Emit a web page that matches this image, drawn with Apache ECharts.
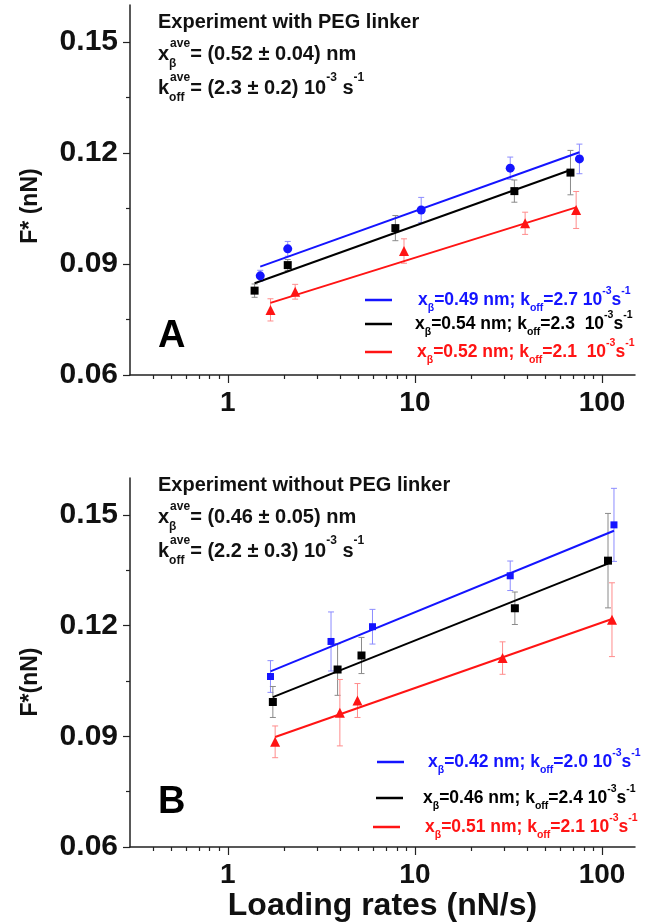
<!DOCTYPE html>
<html>
<head>
<meta charset="utf-8">
<script src="https://cdn.jsdelivr.net/npm/echarts@6/dist/echarts.min.js"></script>
<style>
  html, body { margin: 0; padding: 0; background: #ffffff; }
  #chart { width: 651px; height: 924px; }
</style>
</head>
<body>
<div id="chart"></div>
<script>
// ---- Panel A: experiment with PEG linker ----
const rateA_blue  = [1.49, 2.09, 10.8, 32.3, 75.7];
const forceA_blue = [0.0868, 0.0941, 0.1046, 0.1159, 0.1184];
const errA_blue   = [0.0015, 0.0020, 0.0034, 0.0030, 0.0040];

const rateA_black  = [1.39, 2.09, 7.86, 34.0, 67.8];
const forceA_black = [0.0828, 0.0897, 0.0997, 0.1097, 0.1147];
const errA_black   = [0.0018, 0.0015, 0.0034, 0.0030, 0.0060];

const rateA_red  = [1.69, 2.29, 8.74, 38.8, 72.7];
const forceA_red = [0.0776, 0.0825, 0.0935, 0.1010, 0.1046];
const errA_red   = [0.0030, 0.0020, 0.0033, 0.0030, 0.0050];

// fitted lines: [start, end] rates and forces
const fitRateA_blue  = [1.49, 75.7];
const fitForceA_blue = [0.0893, 0.1202];
const fitRateA_black  = [1.39, 67.8];
const fitForceA_black = [0.0848, 0.1154];
const fitRateA_red  = [1.69, 72.7];
const fitForceA_red = [0.0795, 0.1053];

const xBetaA = ['0.49', '0.54', '0.52'];
const koffA  = ['2.7', '2.3 ', '2.1 '];

// ---- Panel B: experiment without PEG linker ----
const rateB_blue  = [1.69, 3.56, 5.93, 32.3, 115.8];
const forceB_blue = [0.1062, 0.1157, 0.1197, 0.1335, 0.1473];
const errB_blue   = [0.0043, 0.0080, 0.0047, 0.0040, 0.0099];

const rateB_black  = [1.74, 3.86, 5.18, 34.2, 107.6];
const forceB_black = [0.0993, 0.1081, 0.1119, 0.1247, 0.1376];
const errB_black   = [0.0042, 0.0070, 0.0049, 0.0044, 0.0128];

const rateB_red  = [1.79, 3.97, 4.93, 29.4, 113];
const forceB_red = [0.0885, 0.0964, 0.0997, 0.1112, 0.1216];
const errB_red   = [0.0043, 0.0090, 0.0046, 0.0044, 0.0100];

const fitRateB_blue  = [1.69, 115.8];
const fitForceB_blue = [0.1076, 0.1457];
const fitRateB_black  = [1.74, 107.6];
const fitForceB_black = [0.1006, 0.1368];
const fitRateB_red  = [1.79, 113];
const fitForceB_red = [0.0898, 0.1218];

const xBetaB = ['0.42', '0.46', '0.51'];
const koffB  = ['2.0', '2.4', '2.1'];

// ---- axis ticks ----
const rateTicks = [1, 10, 100];
const rateMinorTicks = [0.4, 0.5, 0.6, 0.7, 0.8, 0.9, 2, 3, 4, 5, 6, 7, 8, 9, 20, 30, 40, 50, 60, 70, 80, 90];
const forceTicks = [0.06, 0.09, 0.12, 0.15];
const forceMinorTicks = [0.075, 0.105, 0.135];

const FONT = '"Liberation Sans", Arial, sans-serif';
const BLUE = '#1414ff', BLACK = '#000000', RED = '#ff1414';
const BLUE_ERR = '#8c8cff', BLACK_ERR = '#8a8a8a', RED_ERR = '#ff8c8c';
const AXIS = '#222222';

const zip = (xs, ys) => xs.map((x, i) => [x, ys[i]]);
const zip3 = (xs, ys, es) => xs.map((x, i) => [x, ys[i], es[i]]);

function errorBarRenderer(color) {
  return function (params, api) {
    const x = api.value(0), y = api.value(1), e = api.value(2);
    const hi = api.coord([x, y + e]);
    const lo = api.coord([x, y - e]);
    const cap = 3;
    const style = { stroke: color, lineWidth: 1 };
    return {
      type: 'group',
      children: [
        { type: 'line', shape: { x1: hi[0], y1: hi[1], x2: lo[0], y2: lo[1] }, style },
        { type: 'line', shape: { x1: hi[0] - cap, y1: hi[1], x2: hi[0] + cap, y2: hi[1] }, style },
        { type: 'line', shape: { x1: lo[0] - cap, y1: lo[1], x2: lo[0] + cap, y2: lo[1] }, style }
      ]
    };
  };
}

function xMain(grid, name) {
  return {
    type: 'log', logBase: 10, gridIndex: grid, min: 0.3, max: 150, position: 'bottom',
    axisLine: { onZero: false, lineStyle: { color: AXIS, width: 1.5 } },
    axisTick: { customValues: rateTicks, length: 8, lineStyle: { color: AXIS, width: 1.2 } },
    axisLabel: {
      customValues: rateTicks, margin: 14, fontSize: 28, fontWeight: 'bold',
      fontFamily: FONT, color: '#111', formatter: v => String(Math.round(v))
    },
    splitLine: { show: false },
    name: name || '', nameLocation: 'middle', nameGap: 40,
    nameTextStyle: { fontSize: 32, fontWeight: 'bold', fontFamily: FONT, color: '#111' }
  };
}
function xMinor(grid) {
  return {
    type: 'log', logBase: 10, gridIndex: grid, min: 0.3, max: 150, position: 'bottom',
    axisLine: { show: false, onZero: false },
    axisTick: { customValues: rateMinorTicks, length: 4, lineStyle: { color: AXIS, width: 1.2 } },
    axisLabel: { show: false },
    splitLine: { show: false }
  };
}
function yMain(grid) {
  return {
    type: 'value', gridIndex: grid, min: 0.06, max: 0.16, position: 'left',
    axisLine: { show: true, onZero: false, lineStyle: { color: AXIS, width: 1.5 } },
    axisTick: { show: true, customValues: forceTicks, length: 7, lineStyle: { color: AXIS, width: 1.2 } },
    axisLabel: {
      customValues: forceTicks, margin: 12, fontSize: 30, fontWeight: 'bold',
      fontFamily: FONT, color: '#111', formatter: v => v.toFixed(2)
    },
    splitLine: { show: false }
  };
}
function yMinor(grid) {
  return {
    type: 'value', gridIndex: grid, min: 0.06, max: 0.16, position: 'left',
    axisLine: { show: false, onZero: false },
    axisTick: { show: true, customValues: forceMinorTicks, length: 4, lineStyle: { color: AXIS, width: 1.2 } },
    axisLabel: { show: false },
    splitLine: { show: false }
  };
}

function errSeries(name, axis, rates, forces, errs, color) {
  return {
    name, type: 'custom', xAxisIndex: axis, yAxisIndex: axis, z: 1,
    renderItem: errorBarRenderer(color), encode: { x: 0, y: 1 },
    data: zip3(rates, forces, errs), silent: true
  };
}
function fitSeries(name, axis, rates, forces, color) {
  return {
    name, type: 'line', xAxisIndex: axis, yAxisIndex: axis, z: 2,
    data: zip(rates, forces), symbol: 'none', showSymbol: false,
    lineStyle: { color, width: 2 }, itemStyle: { color }, silent: true, animation: false
  };
}
function pointSeries(name, axis, rates, forces, color, symbol, size) {
  return {
    name, type: 'scatter', xAxisIndex: axis, yAxisIndex: axis, z: 3,
    data: zip(rates, forces), symbol, symbolSize: size,
    itemStyle: { color, opacity: 1 }, silent: true
  };
}

// legend rows: rich text with subscripts / superscripts
function legendText(xb, k) {
  return '{m|x}{sub|β}{m|=' + xb + ' nm; k}{sub|off}{m|=' + k + ' 10}{sup|-3}{m|s}{sup|-1}';
}
function legendRich(color) {
  const base = { color, fontFamily: FONT, fontWeight: 'bold' };
  return {
    m: Object.assign({ fontSize: 17.5, lineHeight: 28 }, base),
    sub: Object.assign({ fontSize: 10.5, lineHeight: 10, verticalAlign: 'bottom' }, base),
    sup: Object.assign({ fontSize: 10.5, lineHeight: 18, verticalAlign: 'top' }, base)
  };
}
function legendItem(seriesName, text, color, left, top, pad) {
  return {
    data: [{ name: seriesName, icon: 'rect', itemStyle: { color } }],
    left, top, orient: 'horizontal', padding: 0,
    itemWidth: 27, itemHeight: 2.5, selectedMode: false,
    formatter: () => text,
    textStyle: { color, padding: [0, 0, 0, pad], rich: legendRich(color) }
  };
}

// annotation blocks (zrender rich styles)
const annBase = { fill: '#111', fontFamily: FONT, fontWeight: 'bold' };
const annRich = {
  m: Object.assign({ fontSize: 20, lineHeight: 32 }, annBase),
  sub: Object.assign({ fontSize: 12, lineHeight: 14, verticalAlign: 'bottom', width: 1 }, annBase),
  sup: Object.assign({ fontSize: 12, lineHeight: 16, verticalAlign: 'top' }, annBase)
};
function annLine(x, y, text) {
  return { type: 'text', x, y, z: 10, silent: true,
    style: { text, rich: annRich, align: 'left', verticalAlign: 'middle' } };
}
function annotation(y0, title, xb, koff) {
  return [
    annLine(158, y0, '{m|' + title + '}'),
    annLine(158, y0 + 32, '{m|x}{sub|β}{sup|ave}{m|= (' + xb + ') nm}'),
    annLine(158, y0 + 66, '{m|k}{sub|off}{sup|ave}{m|= (' + koff + ') 10}{sup|-3}{m| s}{sup|-1}')
  ];
}
function panelLetter(y, letter) {
  return { type: 'text', x: 158, y, z: 10, silent: true,
    style: { text: letter, fill: '#000', fontSize: 38, fontWeight: 'bold', fontFamily: FONT,
             align: 'left', verticalAlign: 'middle' } };
}
function yTitle(y, text) {
  return { type: 'text', x: 31, y, rotation: Math.PI / 2, z: 10, silent: true,
    style: { text, fill: '#111', fontSize: 23, fontWeight: 'bold', fontFamily: FONT,
             align: 'center', verticalAlign: 'middle' } };
}

const chart = echarts.init(document.getElementById('chart'), null, { renderer: 'canvas' });

const option = {
  animation: false,
  backgroundColor: '#ffffff',
  grid: [
    { left: 130, right: 16, top: 5, height: 370 },
    { left: 130, right: 16, top: 478, height: 369 }
  ],
  xAxis: [xMain(0), xMinor(0), xMain(1, 'Loading rates (nN/s)'), xMinor(1)],
  yAxis: [yMain(0), yMinor(0), yMain(1), yMinor(1)],
  legend: [
    legendItem('A blue fit',  legendText(xBetaA[0], koffA[0]), BLUE,  365, 286, 21),
    legendItem('A black fit', legendText(xBetaA[1], koffA[1]), BLACK, 365, 310, 18),
    legendItem('A red fit',   legendText(xBetaA[2], koffA[2]), RED,   365, 338, 20),
    legendItem('B blue fit',  legendText(xBetaB[0], koffB[0]), BLUE,  377, 748, 19),
    legendItem('B black fit', legendText(xBetaB[1], koffB[1]), BLACK, 376, 784, 15),
    legendItem('B red fit',   legendText(xBetaB[2], koffB[2]), RED,   373, 813, 20)
  ],
  graphic: [].concat(
    annotation(22, 'Experiment with PEG linker', '0.52 ± 0.04', '2.3 ± 0.2'),
    annotation(485, 'Experiment without PEG linker', '0.46 ± 0.05', '2.2 ± 0.3'),
    [panelLetter(337, 'A'), panelLetter(803, 'B'),
     yTitle(206, 'F* (nN)'), yTitle(682, 'F*(nN)')]
  ),
  series: [
    errSeries('A blue err', 0, rateA_blue, forceA_blue, errA_blue, BLUE_ERR),
    errSeries('A black err', 0, rateA_black, forceA_black, errA_black, BLACK_ERR),
    errSeries('A red err', 0, rateA_red, forceA_red, errA_red, RED_ERR),
    fitSeries('A blue fit', 0, fitRateA_blue, fitForceA_blue, BLUE),
    fitSeries('A black fit', 0, fitRateA_black, fitForceA_black, BLACK),
    fitSeries('A red fit', 0, fitRateA_red, fitForceA_red, RED),
    pointSeries('A blue', 0, rateA_blue, forceA_blue, BLUE, 'circle', 9),
    pointSeries('A black', 0, rateA_black, forceA_black, BLACK, 'rect', 8),
    pointSeries('A red', 0, rateA_red, forceA_red, RED, 'triangle', 10),

    errSeries('B blue err', 2, rateB_blue, forceB_blue, errB_blue, BLUE_ERR),
    errSeries('B black err', 2, rateB_black, forceB_black, errB_black, BLACK_ERR),
    errSeries('B red err', 2, rateB_red, forceB_red, errB_red, RED_ERR),
    fitSeries('B blue fit', 2, fitRateB_blue, fitForceB_blue, BLUE),
    fitSeries('B black fit', 2, fitRateB_black, fitForceB_black, BLACK),
    fitSeries('B red fit', 2, fitRateB_red, fitForceB_red, RED),
    pointSeries('B blue', 2, rateB_blue, forceB_blue, BLUE, 'rect', 7),
    pointSeries('B black', 2, rateB_black, forceB_black, BLACK, 'rect', 8),
    pointSeries('B red', 2, rateB_red, forceB_red, RED, 'triangle', 10)
  ]
};

chart.setOption(option);
</script>
</body>
</html>
